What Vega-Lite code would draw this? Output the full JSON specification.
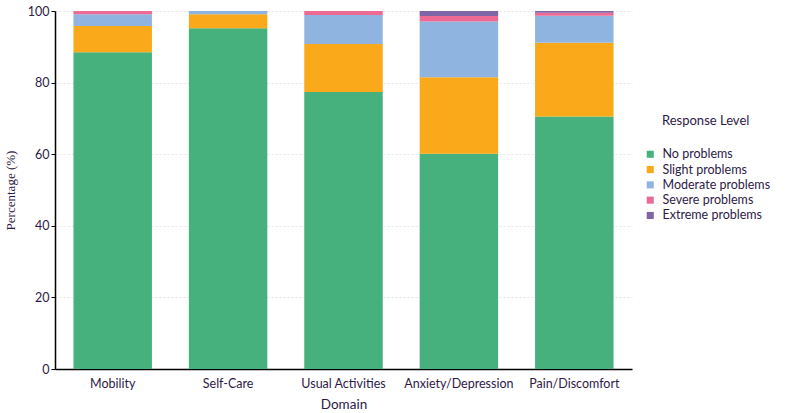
{
  "$schema": "https://vega.github.io/schema/vega-lite/v6.json",
  "width": 577,
  "height": 358,
  "autosize": "none",
  "padding": {"left": 55, "top": 11, "right": 168, "bottom": 44},
  "background": "white",
  "config": {
    "view": {"stroke": null},
    "font": "Lato",
    "axis": {"labelColor": "#2e1a47", "titleColor": "#2e1a47", "labelFont": "Lato", "titleFont": "Lato"},
    "legend": {"labelColor": "#2e1a47", "titleColor": "#2e1a47"}
  },
  "data": {
    "values": [
      {"domain": "Mobility", "level": "No problems", "ord": 1, "pct": 88.5},
      {"domain": "Mobility", "level": "Slight problems", "ord": 2, "pct": 7.3},
      {"domain": "Mobility", "level": "Moderate problems", "ord": 3, "pct": 3.3},
      {"domain": "Mobility", "level": "Severe problems", "ord": 4, "pct": 0.9},
      {"domain": "Self-Care", "level": "No problems", "ord": 1, "pct": 95.2},
      {"domain": "Self-Care", "level": "Slight problems", "ord": 2, "pct": 3.9},
      {"domain": "Self-Care", "level": "Moderate problems", "ord": 3, "pct": 0.9},
      {"domain": "Usual Activities", "level": "No problems", "ord": 1, "pct": 77.4},
      {"domain": "Usual Activities", "level": "Slight problems", "ord": 2, "pct": 13.4},
      {"domain": "Usual Activities", "level": "Moderate problems", "ord": 3, "pct": 8.1},
      {"domain": "Usual Activities", "level": "Severe problems", "ord": 4, "pct": 1.1},
      {"domain": "Anxiety/Depression", "level": "No problems", "ord": 1, "pct": 60.1},
      {"domain": "Anxiety/Depression", "level": "Slight problems", "ord": 2, "pct": 21.4},
      {"domain": "Anxiety/Depression", "level": "Moderate problems", "ord": 3, "pct": 15.6},
      {"domain": "Anxiety/Depression", "level": "Severe problems", "ord": 4, "pct": 1.5},
      {"domain": "Anxiety/Depression", "level": "Extreme problems", "ord": 5, "pct": 1.4},
      {"domain": "Pain/Discomfort", "level": "No problems", "ord": 1, "pct": 70.5},
      {"domain": "Pain/Discomfort", "level": "Slight problems", "ord": 2, "pct": 20.6},
      {"domain": "Pain/Discomfort", "level": "Moderate problems", "ord": 3, "pct": 7.6},
      {"domain": "Pain/Discomfort", "level": "Severe problems", "ord": 4, "pct": 0.8},
      {"domain": "Pain/Discomfort", "level": "Extreme problems", "ord": 5, "pct": 0.5}
    ]
  },
  "mark": {"type": "bar"},
  "encoding": {
    "x": {
      "field": "domain",
      "type": "nominal",
      "sort": ["Mobility", "Self-Care", "Usual Activities", "Anxiety/Depression", "Pain/Discomfort"],
      "scale": {"paddingInner": 0.32, "paddingOuter": 0.16},
      "axis": {
        "title": "Domain",
        "labelAngle": 0,
        "labelFontSize": 12.5,
        "titleFontSize": 13.5,
        "titleFontWeight": "normal",
        "ticks": false,
        "labelPadding": 8,
        "titlePadding": 8,
        "domainColor": "#000000",
        "domainWidth": 1.5
      }
    },
    "y": {
      "field": "pct",
      "type": "quantitative",
      "stack": "zero",
      "scale": {"domain": [0, 100], "nice": false},
      "axis": {
        "title": "Percentage (%)",
        "titleFont": "Liberation Serif",
        "titleFontSize": 13,
        "titleFontWeight": "normal",
        "titlePadding": 10,
        "values": [0, 20, 40, 60, 80, 100],
        "labelFontSize": 12.5,
        "tickSize": 4,
        "tickColor": "#000000",
        "domainColor": "#000000",
        "domainWidth": 1.5,
        "grid": true,
        "gridColor": "#e6e6e6",
        "gridDash": [2, 2]
      }
    },
    "color": {
      "field": "level",
      "type": "nominal",
      "scale": {
        "domain": ["No problems", "Slight problems", "Moderate problems", "Severe problems", "Extreme problems"],
        "range": ["#46b17d", "#f9a919", "#90b4e0", "#ec6a93", "#7f64a6"]
      },
      "legend": {
        "title": "Response Level",
        "orient": "none",
        "legendX": 607,
        "legendY": 104,
        "symbolOffset": -18,
        "titleFontSize": 13,
        "titleFontWeight": "normal",
        "titlePadding": 20,
        "labelFontSize": 12.5,
        "symbolType": "square",
        "symbolSize": 50,
        "symbolStrokeWidth": 0,
        "rowPadding": 2.3,
        "labelOffset": 6
      }
    },
    "order": {"field": "ord", "type": "quantitative", "sort": "ascending"}
  }
}
